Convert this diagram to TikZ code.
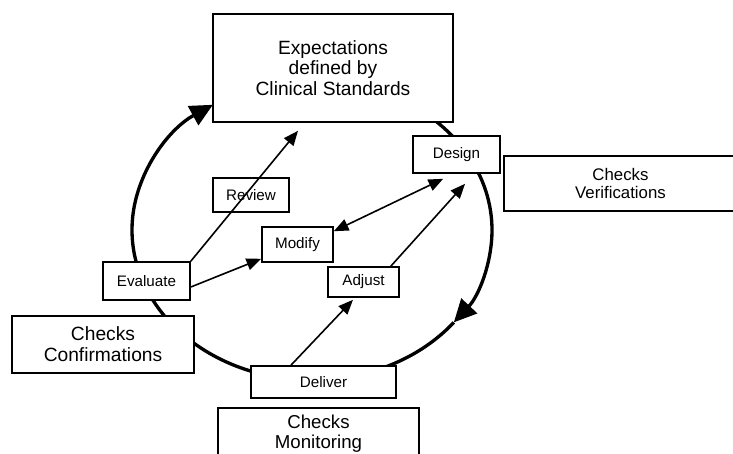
\documentclass[tikz,border=0pt]{standalone}
\usepackage{fontspec}
\setsansfont{Liberation Sans}
\usetikzlibrary{arrows.meta}

\begin{document}
\begin{tikzpicture}[x=0.75pt,y=-0.75pt,>={Triangle[length=11pt,width=9pt]},line width=1.2pt,
    box/.style={draw,fill=white,inner sep=0pt,align=center,font=\sffamily\fontsize{11.4}{13}\selectfont},
    big box/.style={box,font=\sffamily\fontsize{14.4}{15.6}\selectfont},
    cycle arc/.style={line width=2.5pt,-{Triangle[length=17pt,width=16pt]}}]
    \useasboundingbox (0,0) rectangle (733,454);
    \clip (0,0) rectangle (733,454);

    % the loop round the boxes
    \coordinate (c) at (312,230);
    \draw[cycle arc] (c) ++(-60:180 and 150) arc[start angle=-60,end angle=38,x radius=180,y radius=150];
    \draw[cycle arc] (c) ++(38:180 and 150) arc[start angle=38,end angle=236.6,x radius=180,y radius=150];

    \node[big box,minimum width=180pt,minimum height=81pt] (1) at (333,68) {Expectations\\defined by\\Clinical Standards};
    \node[box,minimum width=65.25pt,minimum height=27.75pt] (2) at (456.5,154.5) {Design};
    \node[big box,font=\sffamily\fontsize{12.6}{13.5}\selectfont,minimum width=174.75pt,minimum height=41.25pt] (3) at (620.5,183.5) {Checks\\Verifications};
    \node[box,minimum width=57pt,minimum height=25.5pt] (4) at (251,195) {Review};
    \node[box,minimum width=53.25pt,minimum height=26.25pt] (5) at (297.5,244.5) {Modify};
    \node[box,minimum width=53.25pt,minimum height=22.5pt] (6) at (363.5,282) {Adjust};
    \node[box,minimum width=65.25pt,minimum height=28.5pt] (7) at (146.5,281) {Evaluate};
    \node[big box,minimum width=136.5pt,minimum height=42.75pt] (8) at (103,344.5) {Checks\\Confirmations};
    \node[box,minimum width=108.75pt,minimum height=24pt] (9) at (323.5,382) {Deliver};
    \node[big box,font=\sffamily\fontsize{14}{15}\selectfont,minimum width=150.75pt,minimum height=39pt] (10) at (318.5,434) {Checks\\Monitoring};

    \path[->]
        (7.north east) edge ([xshift=-26.25pt,yshift=-6pt]1.south)
        ([yshift=-4.5pt]7.east) edge ([yshift=3pt]5.south west)
        ([yshift=-3.75pt]5.north east) edge[<->] ([xshift=-10pt,yshift=-3.75pt]2.south)
        ([xshift=-6.75pt]6.north east) edge ([xshift=6.4pt,yshift=-7.5pt]2.south)
        ([xshift=-24.4pt]9.north) edge ([xshift=-7.9pt,yshift=-1.5pt]6.south)
        ;
\end{tikzpicture}
\end{document}
